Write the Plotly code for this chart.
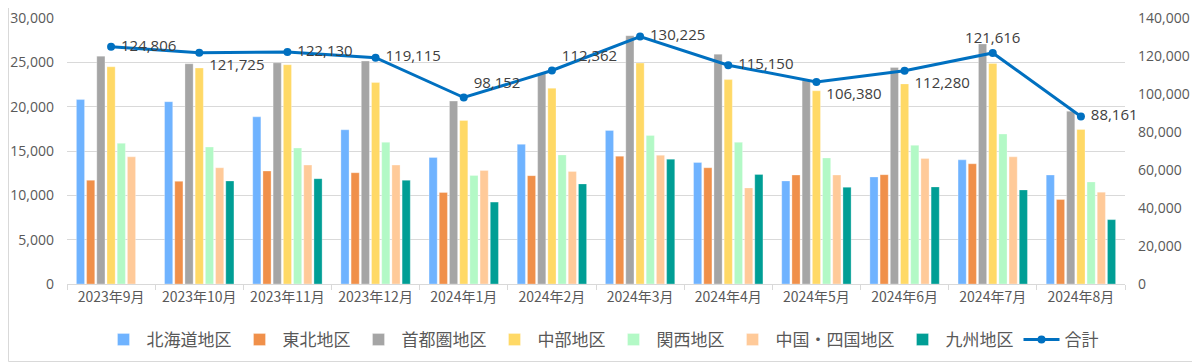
import plotly.graph_objects as go
from plotly.subplots import make_subplots

months = ["2023年9月", "2023年10月", "2023年11月", "2023年12月", "2024年1月", "2024年2月",
          "2024年3月", "2024年4月", "2024年5月", "2024年6月", "2024年7月", "2024年8月"]

hokkaido = [20800, 20560, 18850, 17390, 14260, 15750, 17320, 13700, 11620, 12070, 14000, 12290]
tohoku   = [11700, 11580, 12740, 12550, 10320, 12220, 14410, 13110, 12290, 12330, 13560, 9530]
shutoken = [25700, 24840, 24950, 25140, 20630, 23720, 28000, 25920, 22940, 24430, 27070, 19480]
chubu    = [24500, 24360, 24730, 22720, 18440, 22080, 24920, 23050, 21790, 22570, 24880, 17430]
kansai   = [15870, 15450, 15340, 15980, 12250, 14560, 16760, 15980, 14220, 15640, 16910, 11510]
chugoku  = [14340, 13110, 13410, 13410, 12810, 12700, 14520, 10840, 12290, 14150, 14340, 10360]
kyushu   = [None, 11620, 11880, 11700, 9240, 11290, 14080, 12360, 10910, 10950, 10610, 7260]
total    = [124806, 121725, 122130, 119115, 98152, 112362, 130225, 115150, 106380, 112280, 121616, 88161]

series_names = ["北海道地区", "東北地区", "首都圏地区", "中部地区", "関西地区", "中国・四国地区", "九州地区"]
series_vals = [hokkaido, tohoku, shutoken, chubu, kansai, chugoku, kyushu]
colors = ["#6FB3FF", "#F0904A", "#A5A5A5", "#FFD966", "#B3F9C6", "#FFCA99", "#009E95"]
total_name = "合計"
label_pos = ["middle right", "bottom right", "middle right", "middle right", "top right", "top right",
             "middle right", "middle right", "bottom right", "bottom right", "top center", "middle right"]

FONT = "Noto Sans CJK JP"
NUMFONT = "Open Sans"

# page body has an 8px margin; figure is sized to fill the rest of the 1200x363 window
W, H = 1192, 355
ML, MR, MT, MB = 59, 75, 10, 79
PW, PH = W - ML - MR, H - MT - MB

fig = make_subplots(specs=[[{"secondary_y": True}]])

for name, vals, col in zip(series_names, series_vals, colors):
    fig.add_trace(go.Bar(x=months, y=vals, name=name,
                         marker=dict(color=col, line=dict(color="rgba(255,255,255,0.6)", width=0.5))),
                  secondary_y=False)

labels = [("" if p == "top center" else " ") + f"{v:,}" for v, p in zip(total, label_pos)]
fig.add_trace(go.Scatter(x=months, y=total, name=total_name, mode="lines+markers+text",
                         line=dict(color="#0070C0", width=3), marker=dict(size=8, color="#0070C0"),
                         text=labels, textposition=label_pos, cliponaxis=False,
                         textfont=dict(size=15, color="#404040", family=NUMFONT)),
              secondary_y=True)

fig.update_layout(
    width=W, height=H,
    margin=dict(l=ML, r=MR, t=MT, b=MB, autoexpand=False),
    paper_bgcolor="white", plot_bgcolor="white",
    barmode="group", bargap=0.19, bargroupgap=0.2,
    font=dict(family=FONT, color="#595959", size=13),
    legend=dict(orientation="h", x=(594 - ML) / PW, xanchor="center",
                y=-(332 - (MT + PH)) / PH, yanchor="middle",
                font=dict(size=17, color="#595959"), traceorder="normal", itemwidth=36),
    showlegend=True,
)
fig.update_xaxes(domain=[0, 1], range=[-0.5, len(months) - 0.5], autorange=False,
                 showline=True, linecolor="#D9D9D9", linewidth=1, ticks="outside",
                 tickson="boundaries", ticklen=5, tickcolor="#D9D9D9", showgrid=False, automargin=False,
                 tickfont=dict(size=14, color="#595959"))
fig.update_yaxes(range=[0, 30000], dtick=5000, tickformat=",", showgrid=True, gridcolor="#D9D9D9",
                 zeroline=False, showline=False, automargin=False, ticklabelstandoff=12,
                 ticklabeloverflow="allow",
                 tickfont=dict(size=14, color="#595959", family=NUMFONT),
                 secondary_y=False)
fig.update_yaxes(range=[0, 140000], dtick=20000, tickformat=",", showgrid=False, zeroline=False,
                 showline=False, automargin=False, ticklabelstandoff=12,
                 ticklabeloverflow="allow",
                 tickfont=dict(size=14, color="#595959", family=NUMFONT),
                 secondary_y=True)

# outer chart border along the figure's right and bottom edges
fig.add_shape(type="rect", xref="paper", yref="paper",
              x0=-(ML - 0.5) / PW, x1=(PW + MR - 0.5) / PW, y0=-(MB - 1.5) / PH, y1=(PH + MT + 5) / PH,
              line=dict(color="#D9D9D9", width=1), fillcolor="rgba(0,0,0,0)", layer="below")

fig.write_html("out.html")
